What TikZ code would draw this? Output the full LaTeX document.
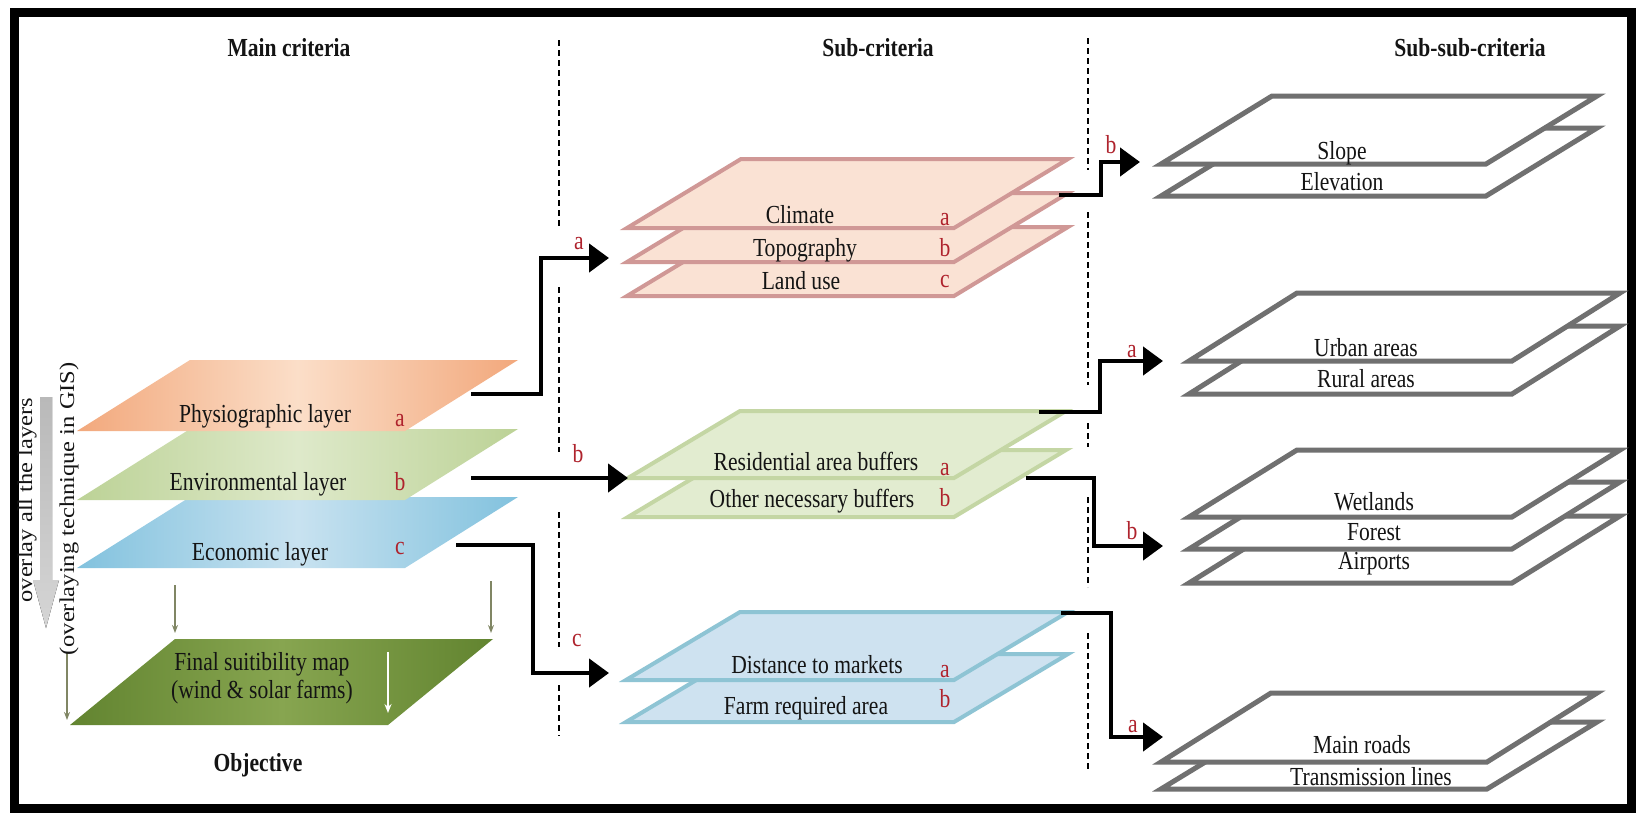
\documentclass[tikz,border=0pt]{standalone}
\usepackage{fontspec}
\setmainfont{Liberation Serif}[FakeStretch=0.83]
\newfontfamily\rotfont{Liberation Serif}
\usetikzlibrary{arrows.meta}
\definecolor{orA}{RGB}{242,168,124}
\definecolor{orB}{RGB}{251,222,200}
\definecolor{grA}{RGB}{188,210,150}
\definecolor{grB}{RGB}{222,233,202}
\definecolor{blA}{RGB}{130,194,222}
\definecolor{blB}{RGB}{200,226,240}
\definecolor{fgA}{RGB}{98,132,48}
\definecolor{fgB}{RGB}{135,165,80}
\definecolor{pkF}{RGB}{250,226,212}
\definecolor{pkD}{RGB}{208,152,150}
\definecolor{gnF}{RGB}{226,236,208}
\definecolor{gnD}{RGB}{196,214,164}
\definecolor{buF}{RGB}{206,226,240}
\definecolor{buD}{RGB}{142,196,212}
\definecolor{gyD}{RGB}{112,112,112}
\definecolor{redc}{RGB}{175,35,45}
\definecolor{txtc}{RGB}{20,20,20}
\definecolor{olv}{RGB}{128,134,100}
\definecolor{garrow}{RGB}{185,185,185}
\newcommand\plate[6]{\path[#1] (#2,#3) -- ++(#4,0) -- ++(#6,-#5) -- ++(-#4,0) -- cycle;}
\newcommand\squeeze[1]{\scalebox{1}[0.86]{#1}}
\tikzset{
  txt/.style={font=\fontsize{26}{31}\selectfont, inner sep=0pt, anchor=base, text=txtc},
  lbl/.style={txt, text=redc},
  hdr/.style={txt, font=\fontsize{26}{31}\selectfont\bfseries},
  rot/.style={font=\rotfont\fontsize{24.5}{29}\selectfont, inner sep=0pt, rotate=90, text=txtc},
  pinkL/.style={fill=pkF, draw=pkD, line width=4pt},
  greenL/.style={fill=gnF, draw=gnD, line width=4pt},
  blueL/.style={fill=buF, draw=buD, line width=4pt},
  grayL/.style={fill=white, draw=gyD, line width=5pt},
  conn/.style={draw=black, line width=4.5pt, -{Triangle[length=20pt,width=28pt]}},
  divider/.style={draw=black, line width=2pt, dash pattern=on 6pt off 4pt},
  small/.style={draw=olv, line width=1.5pt, -{Stealth[length=8pt,width=6pt]}},
}
\begin{document}
\begin{tikzpicture}[x=1pt,y=-1pt]
\useasboundingbox (0,0) rectangle (1638,817);
\fill[white] (0,0) rectangle (1638,817);
\draw[line width=9pt] (14,12.5) rectangle (1631,808);

% headers
\node[hdr] (h1) at (289,56) {Main criteria};
\node[hdr] (h2) at (878,56) {Sub-criteria};
\node[hdr] (h3) at (1470,56) {Sub-sub-criteria};

% dividers
\foreach \a/\b in {40/228,287/452,512/647,685/736} \draw[divider] (559,\a) -- (559,\b);
\foreach \a/\b in {38/170,212/385,423/447,497/587,633/770} \draw[divider] (1088,\a) -- (1088,\b);

% left layers
\plate{left color=blA, right color=blA, middle color=blB}{77}{568}{328}{71}{113}
\plate{left color=grA, right color=grA, middle color=grB}{77}{500}{328}{71}{113}
\plate{left color=orA, right color=orA, middle color=orB}{77}{431}{328}{71}{113}
\node[txt] (phys) at (265,422) {Physiographic layer};
\node[lbl] (physl) at (400,426) {a};
\node[txt] (env) at (258,490) {Environmental layer};
\node[lbl] (envl) at (400,490) {b};
\node[txt] (eco) at (260,560) {Economic layer};
\node[lbl] (ecol) at (400,554) {c};

% final map
\plate{left color=fgA, right color=fgA, middle color=fgB}{70}{725}{318}{86}{105}
\node[txt] (fin1) at (262,670) {Final suitibility map};
\node[txt] (fin2) at (262,698) {(wind \& solar farms)};
\node[hdr] (obj) at (258,771) {Objective};
\coordinate (w1) at (388,652); \coordinate (w2) at (388,713);
\draw[draw=white, line width=2pt, -{Stealth[length=9pt,width=7pt]}] (w1) -- (w2);
\coordinate (o1) at (175,585); \coordinate (o2) at (175,633);
\coordinate (o3) at (491,581); \coordinate (o4) at (491,633);
\coordinate (o5) at (67,652); \coordinate (o6) at (67,720);
\draw[small] (o1) -- (o2);
\draw[small] (o3) -- (o4);
\draw[small] (o5) -- (o6);

% overlay arrow and texts
\fill[top color=garrow, bottom color=garrow!60] (40,397) -- (52,397) -- (52,580) -- (59,580) -- (46,628) -- (33,580) -- (40,580) -- cycle;
\node[rot] (r1) at (27,500) {\squeeze{overlay all the layers}};
\node[rot] (r2) at (69,509) {\squeeze{(overlaying technique in GIS)}};

% climate stack
\plate{pinkL}{627}{296}{327}{69}{114}
\plate{pinkL}{627}{262}{327}{69}{114}
\plate{pinkL}{627}{228}{327}{69}{114}
\node[txt] (cli) at (800,223) {Climate};
\node[lbl] (clil) at (945,225) {a};
\node[txt] (top) at (805,256) {Topography};
\node[lbl] (topl) at (945,256) {b};
\node[txt] (lan) at (801,289) {Land use};
\node[lbl] (lanl) at (945,287) {c};

% residential stack
\plate{greenL}{628}{517}{326}{67}{112}
\plate{greenL}{628}{478}{326}{67}{112}
\node[txt] (res) at (816,470) {Residential area buffers};
\node[lbl] (resl) at (945,475) {a};
\node[txt] (oth) at (812,507) {Other necessary buffers};
\node[lbl] (othl) at (945,506) {b};

% distance stack
\plate{blueL}{626}{722}{328}{68}{114}
\plate{blueL}{626}{680}{328}{68}{114}
\node[txt] (dis) at (817,673) {Distance to markets};
\node[lbl] (disl) at (945,677) {a};
\node[txt] (far) at (806,714) {Farm required area};
\node[lbl] (farl) at (945,707) {b};

% right stacks
\plate{grayL}{1161}{196}{325}{68}{111}
\plate{grayL}{1161}{164}{325}{68}{111}
\node[txt] (slo) at (1342,159) {Slope};
\node[txt] (ele) at (1342,190) {Elevation};

\plate{grayL}{1189}{394}{323}{68}{108}
\plate{grayL}{1189}{361}{323}{68}{108}
\node[txt] (urb) at (1366,356) {Urban areas};
\node[txt] (rur) at (1366,387) {Rural areas};

\plate{grayL}{1189}{583}{323}{67}{108}
\plate{grayL}{1189}{549}{323}{67}{108}
\plate{grayL}{1189}{517}{323}{67}{108}
\node[txt] (wet) at (1374,510) {Wetlands};
\node[txt] (for) at (1374,540) {Forest};
\node[txt] (air) at (1374,569) {Airports};

\plate{grayL}{1161}{789}{326}{67}{110}
\plate{grayL}{1161}{762}{326}{69}{110}
\node[txt] (mai) at (1362,753) {Main roads};
\node[txt] (tra) at (1371,785) {Transmission lines};

% connectors left -> middle
\coordinate (aS) at (471,394); \coordinate (aK) at (541,258); \coordinate (aT) at (609,258);
\draw[conn] (aS) -| (aK) -- (aT);
\node[lbl] (al) at (579,249) {a};
\coordinate (bS) at (471,478); \coordinate (bT) at (628,478);
\draw[conn] (bS) -- (bT);
\node[lbl] (bl) at (578,462) {b};
\coordinate (cS) at (456,545); \coordinate (cK) at (533,673); \coordinate (cT) at (609,673);
\draw[conn] (cS) -| (cK) -- (cT);
\node[lbl] (cl) at (577,646) {c};

% connectors middle -> right
\coordinate (sS) at (1059,195); \coordinate (sK) at (1101,162); \coordinate (sT) at (1140,162);
\draw[conn] (sS) -| (sK) -- (sT);
\node[lbl] (sl) at (1111,153) {b};
\coordinate (uS) at (1039,412); \coordinate (uK) at (1100,361); \coordinate (uT) at (1163,361);
\draw[conn] (uS) -| (uK) -- (uT);
\node[lbl] (ul) at (1132,357) {a};
\coordinate (wS) at (1026,478); \coordinate (wK) at (1094,546); \coordinate (wT) at (1163,546);
\draw[conn] (wS) -| (wK) -- (wT);
\node[lbl] (wl) at (1132,539) {b};
\coordinate (mS) at (1061,613); \coordinate (mK) at (1111,737); \coordinate (mT) at (1163,737);
\draw[conn] (mS) -| (mK) -- (mT);
\node[lbl] (ml) at (1133,732) {a};
\end{tikzpicture}
\end{document}
